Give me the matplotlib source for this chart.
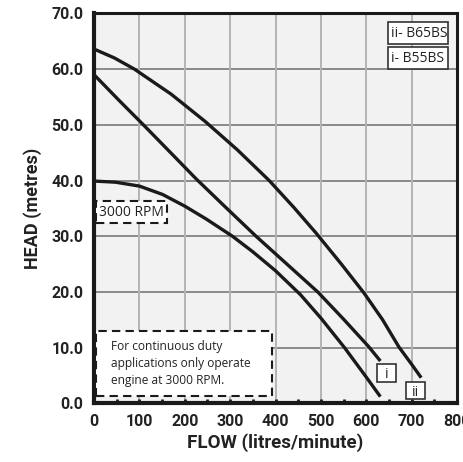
import matplotlib
matplotlib.use("Agg")
import matplotlib.pyplot as plt
from matplotlib.patches import Rectangle

# pump curves (flow l/min, head m)
flow_ii = [0, 45, 89, 170, 245, 316, 386, 440, 490, 545, 595, 636, 672, 700, 721]
head_ii = [63.6, 62.0, 60.0, 55.5, 50.6, 45.5, 40.0, 35.2, 30.5, 25.0, 19.8, 15.0, 10.1, 7.0, 4.6]

flow_i = [0, 55, 110, 170, 225, 290, 357, 425, 493, 550, 605, 631]
head_i = [59.0, 54.4, 49.9, 44.9, 40.3, 35.2, 30.0, 25.0, 20.0, 15.1, 10.2, 7.6]

flow_rpm = [0, 47, 100, 151, 200, 247, 305, 350, 400, 455, 500, 552, 600, 631]
head_rpm = [39.9, 39.7, 39.0, 37.5, 35.4, 33.1, 30.0, 27.2, 23.8, 19.5, 15.3, 10.0, 4.7, 1.2]

x_ticks = [0, 100, 200, 300, 400, 500, 600, 700, 800]
y_ticks = [0, 10, 20, 30, 40, 50, 60, 70]

legend_labels = ["ii- B65BS", "i- B55BS"]
note_text = "For continuous duty\napplications only operate\nengine at 3000 RPM."

fig = plt.figure(figsize=(4.64, 4.62), dpi=100)
ax = fig.add_axes([0.2026, 0.127, 0.7824, 0.844])
ax.set_facecolor("#f2f2f2")

# grid: horizontal darker than vertical
for y in y_ticks[1:-1]:
    ax.axhline(y, color="#8a8a8a", lw=1.4, zorder=1)
for x in x_ticks[1:-1]:
    ax.axvline(x, color="#b4b4b4", lw=1.4, zorder=1)

for fx, hy in [(flow_ii, head_ii), (flow_i, head_i), (flow_rpm, head_rpm)]:
    ax.plot(fx, hy, color="#1a1a1a", lw=2.4, zorder=3,
            solid_capstyle="butt", solid_joinstyle="round")

ax.set_xlim(0, 800)
ax.set_ylim(0, 70)
ax.set_xticks(x_ticks)
ax.set_xticks(range(50, 800, 100), minor=True)
ax.set_yticks(y_ticks)
ax.set_yticklabels([f"{v:.1f}" for v in y_ticks])
ax.tick_params(axis="x", which="both", direction="in", length=3, width=2, color="#1a1a1a", pad=8)
ax.tick_params(axis="y", length=0, pad=7.5)
for lab in ax.get_xticklabels() + ax.get_yticklabels():
    lab.set_fontfamily("Roboto")
    lab.set_fontweight("bold")
    lab.set_fontsize(11.5)
    lab.set_color("#222222")

for side, sp in ax.spines.items():
    sp.set_color("#1a1a1a")
    sp.set_linewidth(3 if side in ("left", "bottom") else 2.2)
    sp.set_zorder(5)

ax.set_xlabel("FLOW (litres/minute)", fontfamily="Roboto", fontweight="bold",
              fontsize=13.5, color="#222222", labelpad=3)
ax.set_ylabel("HEAD (metres)", fontfamily="Roboto", fontweight="bold",
              fontsize=13, color="#222222", labelpad=7)

txt = dict(fontfamily="Open Sans", color="#222222", zorder=7)

# dashed annotation boxes
ax.add_patch(Rectangle((4, 32.3), 157, 4.0, fc="white", ec="#1a1a1a", lw=1.5,
                       ls=(0, (4, 2.5)), zorder=6))
ax.text(12, 34.2, "3000 RPM", fontsize=10, va="center", ha="left", **txt)

ax.add_patch(Rectangle((4, 1.4), 389, 11.6, fc="white", ec="#1a1a1a", lw=1.5,
                       ls=(0, (4, 2.5)), zorder=6))
ax.text(37, 7.2, note_text, fontsize=8.6, va="center", ha="left", linespacing=1.4, **txt)

# legend boxes top right
for i, lab in enumerate(legend_labels):
    y0 = 64.5 - i * 4.5
    ax.add_patch(Rectangle((647, y0), 134, 4.0, fc="white", ec="#333333", lw=1.2, zorder=6))
    ax.text(655, y0 + 1.9, lab, fontsize=10, va="center", ha="left", **txt)

# curve end tags
for x0, y0, lab in [(624, 3.9, "i"), (688, 0.7, "ii")]:
    ax.add_patch(Rectangle((x0, y0), 42, 3.1, fc="white", ec="#333333", lw=1.2, zorder=6))
    ax.text(x0 + 21, y0 + 1.3, lab, fontsize=10, va="center", ha="center", **txt)

fig.savefig("out.png", dpi=100)
